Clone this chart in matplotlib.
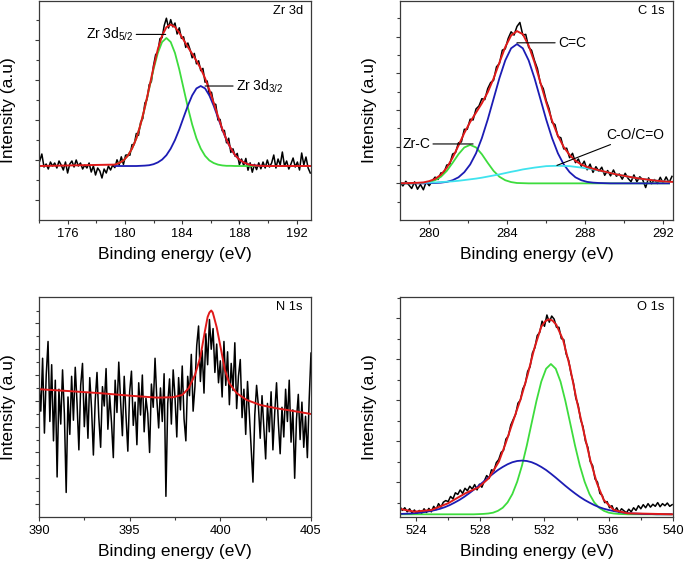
import numpy as np
import matplotlib
matplotlib.use('Agg')
import matplotlib.pyplot as plt
from matplotlib.ticker import MultipleLocator

plt.rcParams['font.family'] = ['Liberation Sans', 'DejaVu Sans']
plt.rcParams['mathtext.fontset'] = 'custom'
plt.rcParams['mathtext.rm'] = 'Liberation Sans'

# ---------- Zr 3d ----------
zr_counts = [2.95, 3.30, 2.65, 2.80, 2.55, 2.90, 2.70, 2.85, 2.60, 2.95, 2.75, 2.50, 2.90, 2.35, 2.80,
             2.95, 2.65, 3.00, 2.70, 2.85, 2.55, 2.75, 2.60, 2.85, 2.40, 2.70, 2.25, 2.60, 2.45, 2.10,
             2.55, 2.35, 2.70, 2.50, 2.75,
             2.62, 3.01, 2.75, 3.16, 2.78, 3.24, 3.26, 3.24, 3.77, 3.77, 4.33, 4.23, 4.89, 5.07, 5.85,
             6.03, 6.77, 6.92, 7.72, 8.27, 8.38, 9.07, 9.12, 9.73, 10.09, 9.60, 10.02, 9.66, 9.85, 9.30,
             9.61, 9.08, 9.16, 8.63, 8.85, 8.53, 8.11, 8.33, 7.81, 7.96, 7.47, 7.58, 6.89, 6.95, 6.26,
             6.39, 5.82, 5.78, 5.00, 5.03, 4.46, 4.48, 3.86, 4.09, 3.38, 3.56, 3.19, 3.33, 2.77, 3.05,
             2.73, 3.08, 2.49, 2.86, 2.39, 2.78, 2.52, 2.86, 2.56, 2.90, 2.60, 3.00, 2.65,
             2.85, 3.25, 2.60, 3.05, 2.75, 3.40, 2.70, 2.95, 2.55, 2.80, 3.10, 2.65, 2.90, 2.50, 3.35,
             2.75, 3.15, 2.60, 2.35]
zr_energy = np.linspace(174.05, 192.95, len(zr_counts))

zr_fit_energy = np.linspace(179.3, 190.1, 37)
zr_52 = [2.77, 2.85, 2.98, 3.21, 3.57, 4.08, 4.78, 5.63, 6.58, 7.53, 8.35, 8.90, 9.10, 8.90, 8.35,
         7.53, 6.58, 5.63, 4.78, 4.08, 3.57, 3.21, 2.98, 2.85, 2.77, 2.73, 2.71, 2.71, 2.70, 2.70,
         2.70, 2.70, 2.70, 2.70, 2.70, 2.70, 2.70]
zr_32 = [2.70, 2.70, 2.70, 2.70, 2.70, 2.70, 2.71, 2.72, 2.74, 2.79, 2.88, 3.02, 3.24, 3.57, 4.00,
         4.53, 5.13, 5.72, 6.23, 6.58, 6.70, 6.58, 6.23, 5.72, 5.13, 4.53, 4.00, 3.57, 3.24, 3.02,
         2.88, 2.79, 2.74, 2.72, 2.71, 2.70, 2.70]
zr_env = [2.70, 2.77, 2.85, 2.98, 3.21, 3.57, 4.08, 4.79, 5.65, 6.62, 7.62, 8.53, 9.22, 9.64, 9.77,
          9.65, 9.36, 9.01, 8.65, 8.31, 7.96, 7.57, 7.09, 6.51, 5.87, 5.20, 4.56, 4.01, 3.58, 3.24,
          3.02, 2.88, 2.79, 2.74, 2.72, 2.71, 2.70, 2.70, 2.70]
zr_env_energy = np.concatenate([[174.0], zr_fit_energy, [193.0]])

# ---------- C 1s ----------
c_counts = [2.06, 1.86, 2.11, 1.92, 1.72, 2.08, 1.68, 1.94, 1.65, 2.09,
            1.87, 2.13, 2.34, 2.21, 2.57, 2.56, 3.00, 3.03, 3.60, 3.68,
            4.21, 4.26, 4.95, 4.95, 5.50, 5.46, 6.06, 6.22, 6.62, 6.57,
            7.17, 7.50, 7.62, 8.36, 8.54, 9.27, 9.34, 9.91, 10.27, 10.09,
            10.56, 10.78, 10.09, 10.13, 9.42, 9.26, 8.70, 8.26, 7.46, 7.17,
            6.52, 6.07, 5.32, 5.21, 4.55, 4.49, 3.88, 3.92, 3.40, 3.64,
            3.13, 3.33, 2.93, 3.21, 2.74, 3.05, 2.60, 2.91, 2.66, 2.88,
            2.44, 2.70, 2.41, 2.73, 2.39, 2.51, 2.23, 2.55, 2.27, 2.09,
            2.46, 2.09, 2.36, 2.19, 1.77, 2.30, 1.98, 2.21, 1.99, 2.33,
            2.01, 2.35, 2.04, 2.38]
c_energy = np.linspace(278.5, 292.45, len(c_counts))

c_fit_energy = np.linspace(278.5, 292.3, 47)
c_zrc = [2.00, 2.00, 2.00, 2.01, 2.02, 2.07, 2.17, 2.36, 2.68, 3.12, 3.59, 3.96, 4.10, 3.96, 3.59,
         3.12, 2.68, 2.36, 2.17, 2.07, 2.02, 2.01] + [2.00] * 25
c_cc = [2.00, 2.00, 2.00, 2.00, 2.00, 2.01, 2.02, 2.04, 2.08, 2.17, 2.33, 2.61, 3.03, 3.64, 4.47,
        5.48, 6.61, 7.74, 8.71, 9.37, 9.60, 9.37, 8.71, 7.74, 6.61, 5.48, 4.47, 3.64, 3.03, 2.61,
        2.33, 2.17, 2.08, 2.04, 2.02, 2.01] + [2.00] * 11
c_co = [2.01, 2.01, 2.02, 2.02, 2.03, 2.04, 2.05, 2.07, 2.09, 2.11, 2.14, 2.18, 2.22, 2.26, 2.31,
        2.37, 2.43, 2.49, 2.56, 2.63, 2.69, 2.76, 2.81, 2.86, 2.90, 2.94, 2.95, 2.96, 2.95, 2.94,
        2.90, 2.86, 2.81, 2.76, 2.69, 2.63, 2.56, 2.49, 2.43, 2.37, 2.31, 2.26, 2.22, 2.18, 2.14,
        2.11, 2.09]
c_env = [2.01, 2.01, 2.02, 2.03, 2.05, 2.12, 2.24, 2.47, 2.85, 3.40, 4.06, 4.75, 5.35, 5.86, 6.37,
         6.97, 7.72, 8.59, 9.44, 10.07, 10.31, 10.14, 9.52, 8.60, 7.51, 6.42, 5.42, 4.60, 3.98, 3.55,
         3.23, 3.03, 2.89, 2.80, 2.71, 2.64, 2.56, 2.49, 2.43, 2.37, 2.31, 2.26, 2.22, 2.18, 2.14,
         2.11, 2.09, 2.08]
c_env_energy = np.append(c_fit_energy, 292.5)

# ---------- N 1s ----------
n_counts = [10.4, 8.2, 12.3, 6.5, 11.0, 13.6, 7.4, 11.8, 5.9, 10.6,
            3.1, 9.9, 7.2, 11.4, 8.0, 1.9, 9.3, 6.4, 10.9, 7.5,
            11.6, 8.8, 5.2, 10.2, 11.9, 7.0, 9.6, 6.1, 10.8, 8.4,
            4.8, 9.0, 11.2, 7.7, 5.4, 10.1, 8.6, 11.5, 6.8, 9.4,
            7.3, 4.6, 10.6, 8.1, 12.0, 9.0, 6.3, 10.9, 7.8, 5.1,
            9.7, 11.3, 7.1, 8.9, 5.6, 10.4, 7.9, 11.0, 6.6, 9.2,
            8.0, 5.0, 10.3, 8.5, 12.3, 9.1, 6.9, 10.0, 7.4, 11.1,
            1.6, 8.8, 10.7, 7.2, 11.4, 9.3, 6.2, 10.8, 8.3, 11.7,
            7.6, 5.9, 10.9, 9.4, 12.6, 8.2, 10.1, 13.3, 14.8, 10.5,
            12.9, 9.6, 14.2, 11.8, 15.3, 13.0, 14.6, 11.2, 13.4, 10.4,
            12.1, 9.3, 13.6, 10.2, 12.8, 8.7, 11.9, 9.8, 13.5, 8.4,
            10.9, 12.2, 7.7, 9.9, 6.4, 10.5, 8.0, 5.3, 2.7, 7.9,
            10.2, 8.6, 6.1, 9.4, 7.0, 4.5, 8.8, 6.6, 9.7, 5.2,
            8.1, 10.4, 7.3, 4.9, 8.5, 6.2, 9.9, 7.4, 10.6, 5.8,
            8.3, 3.0, 7.6, 9.5, 6.0, 8.9, 5.4, 7.8, 4.6, 9.1,
            12.7]
n_energy = np.linspace(390.0, 405.0, len(n_counts))

n_env_energy = [390.0, 391.5, 393.4, 395.2, 396.5, 397.4, 397.9, 398.25, 398.6, 398.9, 399.15,
                399.3, 399.4, 399.5, 399.58, 399.65, 399.8, 400.05, 400.25, 400.5, 400.9, 401.45,
                402.2, 403.1, 404.0, 405.0]
n_env = [9.90, 9.77, 9.59, 9.38, 9.25, 9.28, 9.46, 9.97, 11.0, 12.4, 14.4,
         15.5, 15.85, 16.0, 15.85, 15.5, 14.7, 12.9, 11.4, 10.35, 9.6, 9.07,
         8.68, 8.42, 8.22, 7.98]

# ---------- O 1s ----------
o_counts = [-0.20, -0.38, -0.25, -0.45, -0.30, -0.50, -0.36, -0.55, -0.38, -0.52,
            -0.30, -0.48, -0.28, -0.45, -0.18, -0.34, -0.05, -0.22, 0.02, 0.10,
            0.05, 0.30, 0.18, 0.48, 0.40, 0.62, 0.45, 0.70, 0.58, 0.80,
            0.66, 0.88, 0.62, 0.90, 0.75, 1.05, 1.32, 1.18, 1.60, 1.55,
            1.95, 2.10, 2.45, 2.55, 3.10, 3.25, 3.78, 4.05, 4.30, 4.85,
            5.00, 5.55, 5.78, 6.40, 6.62, 7.30, 7.55, 8.15, 8.30, 8.85,
            8.60, 9.15, 8.80, 9.10, 8.95, 8.55, 8.55, 8.00, 7.95, 7.25,
            6.95, 6.30, 5.85, 5.10, 4.75, 4.05, 3.70, 3.00, 2.70, 2.00,
            1.80, 1.15, 1.00, 0.45, 0.35, 0.00, 0.05, -0.25, -0.15, -0.42,
            -0.25, -0.48, -0.30, -0.40, -0.50, -0.32, -0.45, -0.25, -0.38, -0.15,
            -0.30, -0.10, -0.25, -0.05, -0.22, -0.08, -0.18, 0.00, -0.20, -0.05,
            -0.15, -0.02, -0.18, -0.10]
o_energy = np.linspace(523.0, 539.95, len(o_counts))

o_fit_energy = np.linspace(523.1, 539.9, 57)
o_high = [-0.57] * 16 + [-0.56, -0.55, -0.53, -0.49, -0.40, -0.25, 0.01, 0.42, 1.02, 1.81, 2.79,
                         3.88, 4.96, 5.90, 6.53, 6.76, 6.53, 5.90, 4.96, 3.88, 2.79, 1.81, 1.02,
                         0.42, 0.01, -0.25, -0.40, -0.49, -0.53, -0.55, -0.56] + [-0.57] * 10
o_low = [-0.55, -0.54, -0.53, -0.51, -0.49, -0.45, -0.41, -0.36, -0.30, -0.22, -0.12, 0.00, 0.13,
         0.28, 0.45, 0.63, 0.82, 1.02, 1.22, 1.41, 1.59, 1.74, 1.87, 1.97, 2.03, 2.05, 2.03, 1.97,
         1.87, 1.74, 1.59, 1.41, 1.22, 1.02, 0.82, 0.63, 0.45, 0.28, 0.13, 0.00, -0.12, -0.22,
         -0.30, -0.36, -0.41, -0.45, -0.49, -0.51, -0.53, -0.54, -0.55, -0.56, -0.56, -0.57,
         -0.57, -0.57, -0.57]
o_env_energy = [523.0, 523.9, 524.95, 526.0, 527.06, 527.9, 528.53, 529.16, 529.58, 530.0, 530.53,
                530.95, 531.37, 531.8, 532.05, 532.28, 532.5, 532.74, 533.16, 533.58, 534.0,
                534.42, 534.85, 535.27, 535.69, 536.32, 537.16, 540.0]
o_env = [-0.31, -0.44, -0.36, -0.03, 0.45, 0.75, 1.19, 2.0, 2.89, 3.87, 5.09,
         6.23, 7.53, 8.58, 8.85, 8.94, 8.88, 8.67, 7.93, 6.63, 5.01,
         3.54, 2.08, 0.94, 0.13, -0.36, -0.52, -0.57]

GREEN = '#3ddc3d'
BLUE = '#1c1cb4'
RED = '#e01a1a'
CYAN = '#3fe3ee'
FRAME = '#3a3a3a'

fig = plt.figure(figsize=(6.85, 5.65), dpi=100)
ax1 = fig.add_axes([0.0569, 0.6106, 0.3971, 0.3876])
ax2 = fig.add_axes([0.5839, 0.6106, 0.3985, 0.3876])
ax3 = fig.add_axes([0.0569, 0.0850, 0.3971, 0.3894])
ax4 = fig.add_axes([0.5839, 0.0850, 0.3985, 0.3894])


def style(ax, xlim, ylim, xmaj, xmin, yticks_major, yticks_minor, tag):
    ax.set_xlim(xlim)
    ax.set_ylim(ylim)
    ax.xaxis.set_major_locator(MultipleLocator(xmaj))
    ax.xaxis.set_minor_locator(MultipleLocator(xmin))
    ax.set_yticks(yticks_major)
    ax.set_yticks(yticks_minor, minor=True)
    ax.tick_params(which='both', direction='out', color=FRAME, width=0.8,
                   labelleft=False, labelsize=9.3, pad=2.5)
    ax.tick_params(which='major', length=3.2)
    ax.tick_params(which='minor', length=2.0)
    for sp in ax.spines.values():
        sp.set_color(FRAME)
        sp.set_linewidth(0.9)
    ax.set_xlabel('Binding energy (eV)', fontsize=12.5, labelpad=5)
    ax.set_ylabel('Intensity (a.u)', fontsize=12.5, labelpad=13)
    ax.text(0.97, 0.955, tag, transform=ax.transAxes, ha='right', va='center', fontsize=9.3)


leader = dict(arrowstyle='-', color='black', lw=0.8, shrinkA=0, shrinkB=0)

# Zr 3d
ax1.plot(zr_energy, zr_counts, color='black', lw=1.1)
ax1.plot(zr_fit_energy, zr_52, color=GREEN, lw=1.3)
ax1.plot(zr_fit_energy, zr_32, color=BLUE, lw=1.3)
ax1.plot(zr_env_energy, zr_env, color=RED, lw=1.4)
style(ax1, (174, 193), (0, 10.95), 4, 2, [1, 3, 5, 7, 9], [2, 4, 6, 8, 10], 'Zr 3d')
ax1.annotate('Zr 3d$_{\\rm 5/2}$', xy=(182.85, 9.28), xytext=(180.6, 9.28),
             ha='right', va='center', fontsize=10, arrowprops=leader)
ax1.annotate('Zr 3d$_{\\rm 3/2}$', xy=(185.6, 6.7), xytext=(187.75, 6.7),
             ha='left', va='center', fontsize=10, arrowprops=leader)

# C 1s
ax2.plot(c_energy, c_counts, color='black', lw=1.1)
ax2.plot(c_fit_energy, c_zrc, color=GREEN, lw=1.3)
ax2.plot(c_fit_energy, c_cc, color=BLUE, lw=1.3)
ax2.plot(c_fit_energy, c_co, color=CYAN, lw=1.3)
ax2.plot(c_env_energy, c_env, color=RED, lw=1.4)
style(ax2, (278.5, 292.5), (0, 11.95), 4, 2, [2, 4, 6, 8, 10], [1, 3, 5, 7, 9, 11], 'C 1s')
ax2.annotate('C=C', xy=(284.5, 9.67), xytext=(286.6, 9.67),
             ha='left', va='center', fontsize=10, arrowprops=leader)
ax2.annotate('Zr-C', xy=(282.25, 4.15), xytext=(280.05, 4.15),
             ha='right', va='center', fontsize=10, arrowprops=leader)
ax2.annotate('C-O/C=O', xy=(286.55, 2.98), xytext=(289.1, 4.65),
             ha='left', va='center', fontsize=10, arrowprops=leader)

# N 1s
ax3.plot(n_energy, n_counts, color='black', lw=1.1)
ax3.plot(n_env_energy, n_env, color=RED, lw=1.4)
style(ax3, (390, 405), (0, 17.05), 5, 2.5, list(range(1, 17, 2)), list(range(2, 17, 2)), 'N 1s')

# O 1s
ax4.plot(o_energy, o_counts, color='black', lw=1.1)
ax4.plot(o_fit_energy, o_high, color=GREEN, lw=1.3)
ax4.plot(o_fit_energy, o_low, color=BLUE, lw=1.3)
ax4.plot(o_env_energy, o_env, color=RED, lw=1.4)
style(ax4, (523, 540), (-0.7, 10.03), 4, 2, [1, 3, 5, 7, 9], [0, 2, 4, 6, 8, 10], 'O 1s')

fig.savefig('out.png', dpi=100)
